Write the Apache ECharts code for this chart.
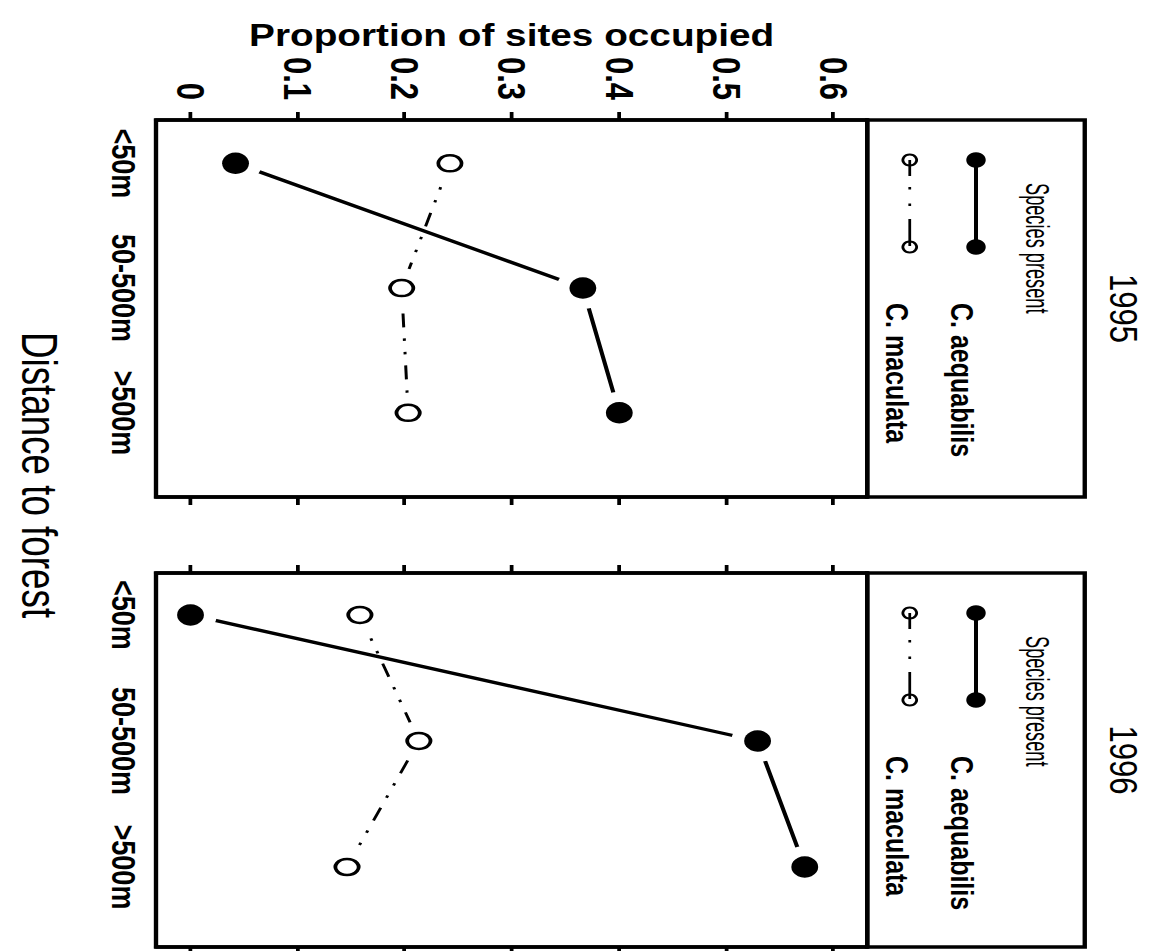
<!DOCTYPE html>
<html>
<head>
<meta charset="utf-8">
<title>Proportion of sites occupied by distance to forest</title>
<script src="https://cdn.jsdelivr.net/npm/echarts@6/dist/echarts.min.js"></script>
<style>
  html, body { margin: 0; padding: 0; width: 1156px; height: 951px; overflow: hidden; background: #fff; }
  /* the figure is printed turned a quarter clockwise and a bit stretched along the value axis */
  #chart { position: absolute; left: 0; top: 0; width: 951px; height: 925px;
           transform-origin: 0 0; transform: translateX(1156px) rotate(90deg) scaleY(1.25); }
</style>
</head>
<body>
<div id="chart"></div>
<script>
// data
const distances = ['<50m', '50-500m', '>500m'];
const years = ['1995', '1996'];
const species = ['C. aequabilis', 'C. maculata'];
const aequabilis1995 = [0.042, 0.366, 0.40];
const maculata1995 = [0.242, 0.197, 0.203];
const aequabilis1996 = [0, 0.529, 0.573];
const maculata1996 = [0.158, 0.213, 0.146];
const proportionTicks = [0, 0.1, 0.2, 0.3, 0.4, 0.5, 0.6];

const byYear = [[aequabilis1995, maculata1995], [aequabilis1996, maculata1996]];

// layout (chart coords, before the css turn)
const FONT = "'Liberation Sans', Arial, Helvetica, sans-serif";
const LEGEND_TOP = 57;
const PLOT_TOP = 231;
const PLOT_BOTTOM = 800;
const Y_MIN = -0.0322;
const Y_MAX = 0.6313;
const panelLayout = [
  {left: 120, width: 377, xMin: 0.653, xMax: 3.675},
  {left: 573, width: 374, xMin: 0.667, xMax: 3.635},
];
const macDash = [14, 11, 2.5, 11, 2.5, 11];

function points(arr) {
  return arr.map((v, k) => [k + 1, v]);
}

function legendGraphics(i) {
  const p = panelLayout[i];
  const dx = p.left - 120;
  const textStyle = {fill: '#000', fontFamily: FONT, verticalAlign: 'middle'};
  return [
    {type: 'rect', shape: {x: p.left, y: LEGEND_TOP, width: p.width, height: PLOT_TOP - LEGEND_TOP},
      style: {fill: 'none', stroke: '#000', lineWidth: 3.5}},
    {type: 'text', x: p.left + p.width / 2, y: 26,
      style: Object.assign({}, textStyle, {text: years[i], fontSize: 31, align: 'center'})},
    {type: 'text', x: 183 + dx, y: 95, scaleX: 0.7,
      style: Object.assign({}, textStyle, {text: 'Species present', fontSize: 26, align: 'left'})},
    // C. aequabilis key
    {type: 'line', shape: {x1: 160 + dx, y1: 144, x2: 247 + dx, y2: 144}, style: {stroke: '#000', lineWidth: 3.2}},
    {type: 'circle', shape: {cx: 160 + dx, cy: 144, r: 7.8}, style: {fill: '#000'}},
    {type: 'circle', shape: {cx: 247 + dx, cy: 144, r: 7.8}, style: {fill: '#000'}},
    {type: 'text', x: 303 + dx, y: 155,
      style: Object.assign({}, textStyle, {text: species[0], fontSize: 25, fontWeight: 'bold', align: 'left'})},
    // C. maculata key
    {type: 'line', shape: {x1: 160 + dx, y1: 197, x2: 247 + dx, y2: 197},
      style: {stroke: '#000', lineWidth: 2.2, lineDash: [16, 11, 2.5, 14, 2.5, 13, 27]}},
    {type: 'circle', shape: {cx: 160 + dx, cy: 197, r: 5.5}, style: {fill: 'none', stroke: '#000', lineWidth: 2.2}},
    {type: 'circle', shape: {cx: 247 + dx, cy: 197, r: 5.5}, style: {fill: 'none', stroke: '#000', lineWidth: 2.2}},
    {type: 'text', x: 303 + dx, y: 207,
      style: Object.assign({}, textStyle, {text: species[1], fontSize: 25, fontWeight: 'bold', align: 'left'})},
  ];
}

const option = {
  animation: false,
  grid: panelLayout.map(p => ({
    left: p.left, top: PLOT_TOP, width: p.width, height: PLOT_BOTTOM - PLOT_TOP,
    show: true, borderColor: '#000', borderWidth: 3.5, backgroundColor: 'transparent',
    containLabel: false, outerBoundsMode: 'none',
  })),
  xAxis: panelLayout.map((p, i) => ({
    gridIndex: i, type: 'value', min: p.xMin, max: p.xMax,
    axisLine: {show: false}, axisTick: {show: false}, splitLine: {show: false},
    axisLabel: {
      customValues: [1, 2, 3],
      formatter: v => distances[Math.round(v) - 1],
      fontSize: 27, fontWeight: 'bold', fontFamily: FONT, color: '#000', margin: 12,
    },
  })),
  yAxis: [0, 1, 0, 1].map((gi, k) => ({
    gridIndex: gi, type: 'value', position: k < 2 ? 'left' : 'right',
    min: Y_MIN, max: Y_MAX,
    axisLine: {show: true, lineStyle: {color: '#000', width: 3.5}},
    axisTick: {show: true, customValues: proportionTicks, length: 8, lineStyle: {color: '#000', width: 3}},
    axisLabel: {
      show: k === 0, customValues: proportionTicks,
      formatter: v => (v === 0 ? '0' : v.toFixed(1)),
      fontSize: 31, fontWeight: 'bold', fontFamily: FONT, color: '#000', margin: 20,
    },
    splitLine: {show: false},
    name: k === 0 ? 'Proportion of sites occupied' : '',
    nameLocation: 'middle', nameRotate: 90, nameGap: 70,
    nameTextStyle: {fontSize: 31, fontWeight: 'bold', fontFamily: FONT, color: '#000'},
  })),
  series: [],
  graphic: [],
};

byYear.forEach((pair, i) => {
  const [aeq, mac] = pair;
  // lines, with white discs round the points to leave the gaps
  option.series.push({
    type: 'line', xAxisIndex: i, yAxisIndex: i, data: points(aeq), z: 2, silent: true,
    symbol: 'circle', symbolSize: 42, showAllSymbol: true, itemStyle: {color: '#fff', opacity: 1},
    lineStyle: {color: '#000', width: 3.3}, emphasis: {disabled: true},
  });
  option.series.push({
    type: 'line', xAxisIndex: i, yAxisIndex: i, data: points(mac), z: 2, silent: true,
    symbol: 'circle', symbolSize: 40, showAllSymbol: true, itemStyle: {color: '#fff', opacity: 1},
    lineStyle: {color: '#000', width: 2.4, type: macDash, cap: 'butt'}, emphasis: {disabled: true},
  });
  option.series.push({
    type: 'scatter', name: species[0], xAxisIndex: i, yAxisIndex: i, data: points(aeq), z: 5,
    symbol: 'circle', symbolSize: [21.5, 21.5], itemStyle: {color: '#000', opacity: 1},
    emphasis: {disabled: true},
  });
  option.series.push({
    type: 'scatter', name: species[1], xAxisIndex: i, yAxisIndex: i, data: points(mac), z: 5,
    symbol: 'circle', symbolSize: [16, 18.5],
    itemStyle: {color: '#fff', borderColor: '#000', borderWidth: 2.8, opacity: 1},
    emphasis: {disabled: true},
  });
  option.graphic.push(...legendGraphics(i));
});

option.graphic.push({
  type: 'text', x: 475, y: 893, scaleX: 0.92,
  style: {text: 'Distance to forest', fontSize: 40, fontFamily: FONT, fill: '#000', align: 'center', verticalAlign: 'middle'},
});

const chart = echarts.init(document.getElementById('chart'), null, {renderer: 'svg'});
chart.setOption(option);
</script>
</body>
</html>
